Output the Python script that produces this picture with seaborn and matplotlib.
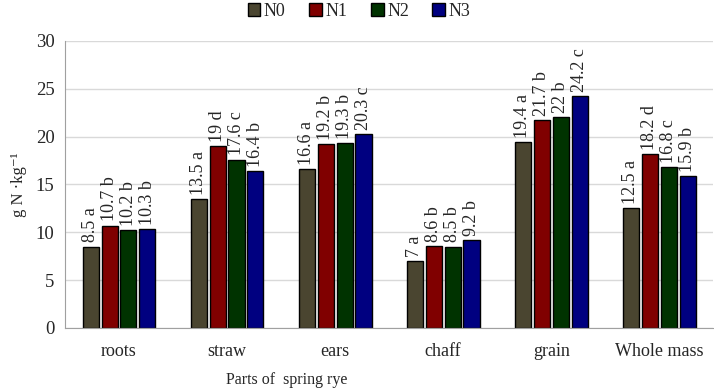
import numpy as np
import pandas as pd
import seaborn as sns
import matplotlib.pyplot as plt
from matplotlib.ticker import FixedLocator

# -----------------------------------------
# Data
# -----------------------------------------
parts = ["roots", "straw", "ears", "chaff", "grain", "Whole mass"]
levels = ["N0", "N1", "N2", "N3"]

n0 = [8.5, 13.5, 16.6, 7.0, 19.4, 12.5]
n1 = [10.7, 19.0, 19.2, 8.6, 21.7, 18.2]
n2 = [10.2, 17.6, 19.3, 8.5, 22.0, 16.8]
n3 = [10.3, 16.4, 20.3, 9.2, 24.2, 15.9]

lab_n0 = ["8.5 a", "13.5 a", "16.6 a", "7 a", "19.4 a", "12.5 a"]
lab_n1 = ["10.7 b", "19 d", "19.2 b", "8.6 b", "21.7 b", "18.2 d"]
lab_n2 = ["10.2 b", "17.6 c", "19.3 b", "8.5 b", "22 b", "16.8 c"]
lab_n3 = ["10.3 b", "16.4 b", "20.3 c", "9.2 b", "24.2 c", "15.9 b"]

colors = ["#4a4530", "#800000", "#003300", "#000080"]

# long-form table for seaborn
rows = []
for lev, vals in zip(levels, [n0, n1, n2, n3]):
    for p, v in zip(parts, vals):
        rows.append({"part": p, "level": lev, "value": v})
df = pd.DataFrame(rows)

# -----------------------------------------
# Plot
# -----------------------------------------
sns.set_style("white")
plt.rcParams["font.family"] = ["Liberation Serif", "DejaVu Serif"]

fig = plt.figure(figsize=(7.14, 3.9), dpi=100)
ax = fig.add_axes([0.091, 0.159, 0.908, 0.736])

sns.barplot(
    data=df, x="part", y="value", hue="level",
    order=parts, hue_order=levels, palette=colors, saturation=1,
    width=0.7, gap=0.15, edgecolor="black", linewidth=1,
    ax=ax, legend=False,
)

for cont, labs in zip(ax.containers, [lab_n0, lab_n1, lab_n2, lab_n3]):
    ax.bar_label(cont, labels=labs, rotation=90, padding=3, fontsize=13)

ax.set_ylim(0, 30)
ax.set_xlim(-0.5, len(parts) - 0.5)
ax.set_yticks(range(0, 31, 5))
ax.yaxis.grid(True, color="#d9d9d9", linewidth=1)
ax.set_axisbelow(True)

ax.xaxis.set_minor_locator(FixedLocator(np.arange(-0.5, len(parts), 1.0)))
ax.tick_params(axis="x", which="major", length=0, labelsize=13, pad=11)
ax.tick_params(axis="x", which="minor", length=5, color="#a0a0a0", width=1)
ax.tick_params(axis="y", length=4, color="#a0a0a0", labelsize=13.5)

for s in ["top", "right"]:
    ax.spines[s].set_visible(False)
for s in ["left", "bottom"]:
    ax.spines[s].set_color("#a0a0a0")

ax.set_xlabel("")
ax.set_ylabel("g N ·kg⁻¹", fontsize=12)
ax.yaxis.set_label_coords(-0.058, 0.5)
fig.text(0.402, 0.015, "Parts of  spring rye", fontsize=11.5, ha="center")

handles = [plt.Rectangle((0, 0), 1, 1, facecolor=c, edgecolor="black", linewidth=1)
           for c in colors]
fig.legend(handles, levels, loc="upper center", bbox_to_anchor=(0.503, 1.035),
           ncol=4, frameon=False, fontsize=13, handlelength=0.7, handleheight=0.7,
           handletextpad=0.2, columnspacing=1.3)

plt.savefig("out.png", dpi=100)
plt.close()
